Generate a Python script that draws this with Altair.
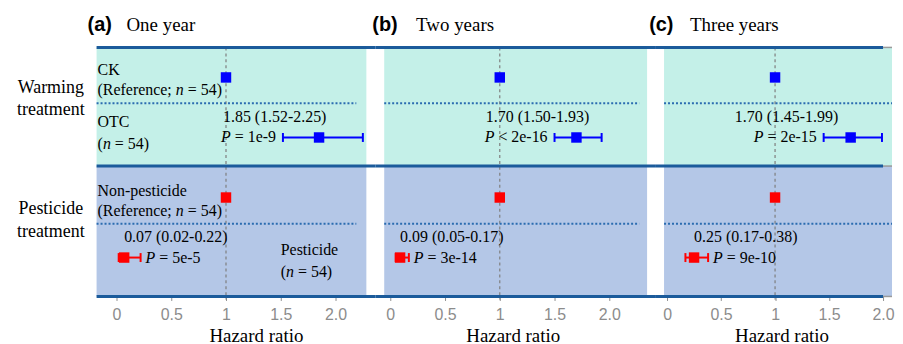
import altair as alt
import pandas as pd

# ---------------- data ----------------
panel_tags = ["(a)", "(b)", "(c)"]
periods = ["One year", "Two years", "Three years"]
ref_hr = [1.0, 1.0, 1.0]
otc_hr = [1.85, 1.70, 1.70]
otc_lo = [1.52, 1.50, 1.45]
otc_hi = [2.25, 1.93, 1.99]
otc_p = ["= 1e-9", "< 2e-16", "= 2e-15"]
pest_hr = [0.07, 0.09, 0.25]
pest_lo = [0.02, 0.05, 0.17]
pest_hi = [0.22, 0.17, 0.38]
pest_p = ["= 5e-5", "= 3e-14", "= 9e-10"]
n_group = [54, 54, 54, 54]
group_labels = [["Warming", "treatment"], ["Pesticide", "treatment"]]
tick_values = [0, 0.5, 1, 1.5, 2]
tick_labels = ["0", "0.5", "1", "1.5", "2.0"]

# ---------------- layout (data units) ----------------
X_DOMAINS = [(-0.991, 2.364), (-0.136, 2.418), (-0.111, 2.083)]
PANEL_W = [369, 281, 238]
PLOT_H = 289
Y_DOMAIN = (-0.144, 4.648)
BG_X = [(-0.182, 2.282), (-0.055, 2.345), (-0.028, 2.083)]
DOT_X = [(-0.182, 2.19), (-0.055, 2.273), (-0.028, 2.083)]
LINE_X = [(-0.182, 2.364), (-0.136, 2.418), (-0.111, 2.0)]
SECTION_Y = [(0.5, 2.476), (2.476, 4.648)]
SECTION_COLORS = ["#c4f0e8", "#b4c7e7"]
DOT_Y = [1.431, 3.438]
THICK_Y = [0.5, 2.476, 4.648]
ROWS = [1, 2, 3, 4]
TAG_X = [-0.264, -0.164, -0.166]
PERIOD_X = [0.091, 0.236, 0.212]
OTC_LAB_X = [1.445, 1.345, 1.106]
TITLE_X_PX = [249, 138, 127]
TITLE_Y = 0.121
FS = 16

W = {' ': .25, '(': .333, ')': .333, ';': .278, '=': .564, '<': .564, '-': .333,
     '.': .25, 'R': .667, 'e': .444, 'f': .333, 'r': .333, 'n': .5, 'c': .444, 'P': .611}


def tw(s):
    return sum(W.get(c, 0.5) for c in s)


STYLES = {
    "tag": dict(font="Liberation Sans", fontSize=20, fontWeight="bold"),
    "period": dict(font="Liberation Serif", fontSize=19),
    "body": dict(font="Liberation Serif", fontSize=FS),
    "ital": dict(font="Liberation Serif", fontSize=FS, fontStyle="italic"),
    "group": dict(font="Liberation Serif", fontSize=18),
}

label_expr = " : ".join(
    f"datum.value == {v} ? '{l}'" for v, l in zip(tick_values, tick_labels)
) + " : ''"


def n_label(texts, x, y, prefix, px):
    texts.append(dict(x=x, y=y, text=prefix, kind="body", align="left"))
    texts.append(dict(x=x + px(tw(prefix) * FS), y=y, text="n", kind="ital", align="left"))
    texts.append(dict(x=x + px((tw(prefix) + 0.5 + 0.25) * FS), y=y,
                      text=f"= {n_group[0]})", kind="body", align="left"))


def panel(i):
    ppu = PANEL_W[i] / (X_DOMAINS[i][1] - X_DOMAINS[i][0])

    def px(v):
        return v / ppu

    xs = alt.Scale(domain=list(X_DOMAINS[i]), nice=False, zero=False)
    ys = alt.Scale(domain=list(Y_DOMAIN), nice=False, zero=False, reverse=True)
    xaxis = alt.Axis(
        values=tick_values, labelExpr=label_expr, domain=False, ticks=True,
        tickColor="#8c8c8c", tickSize=4, tickWidth=1,
        grid=False, labelFont="Liberation Sans", labelFontSize=16,
        labelColor="#8c8c8c", labelPadding=6, labelFlush=False,
        title="Hazard ratio", titleFont="Liberation Serif", titleFontSize=19,
        titleFontWeight="normal", titleColor="black", titlePadding=4,
        titleX=TITLE_X_PX[i], titleAlign="center")

    def X(field):
        return alt.X(field, scale=xs, axis=xaxis)

    def Y(field):
        return alt.Y(field, scale=ys, axis=None)

    layers = []
    for (y0, y1), col in zip(SECTION_Y, SECTION_COLORS):
        bg = pd.DataFrame({"x": [BG_X[i][0]], "x2": [BG_X[i][1]], "y": [y0], "y2": [y1]})
        layers.append(alt.Chart(bg).mark_rect(color=col).encode(
            x=X("x:Q"), x2="x2", y=Y("y:Q"), y2="y2"))

    layers.append(alt.Chart(pd.DataFrame({"x": [ref_hr[i]], "y": [THICK_Y[0]], "y2": [4.7]})).mark_rule(
        color="#7f7f7f", strokeDash=[3, 3], strokeWidth=1.2).encode(
        x=X("x:Q"), y=Y("y:Q"), y2="y2"))

    layers.append(alt.Chart(pd.DataFrame({"x": [DOT_X[i][0]] * 2, "x2": [DOT_X[i][1]] * 2, "y": DOT_Y})).mark_rule(
        color="#2b6cb0", strokeDash=[2, 2], strokeWidth=2).encode(
        x=X("x:Q"), x2="x2", y=Y("y:Q")))

    if i == 2:
        layers.append(alt.Chart(pd.DataFrame({"x": [LINE_X[i][1]] * 3, "x2": [X_DOMAINS[i][1]] * 3,
                                              "y": THICK_Y})).mark_rule(color="#9a9a9a", strokeWidth=1.5).encode(
            x=X("x:Q"), x2="x2", y=Y("y:Q")))

    layers.append(alt.Chart(pd.DataFrame({"x": [LINE_X[i][0]] * 3, "x2": [LINE_X[i][1]] * 3, "y": THICK_Y})).mark_rule(
        color="#1b5b9b", strokeWidth=3).encode(
        x=X("x:Q"), x2="x2", y=Y("y:Q")))

    groups = [
        ("#0000ff", [ref_hr[i], otc_hr[i]], [ref_hr[i], otc_lo[i]], [ref_hr[i], otc_hi[i]], ROWS[:2]),
        ("#ff0000", [ref_hr[i], pest_hr[i]], [ref_hr[i], pest_lo[i]], [ref_hr[i], pest_hi[i]], ROWS[2:]),
    ]
    for col, hr, lo, hi, rows in groups:
        est = pd.DataFrame({"hr": hr, "lo": lo, "hi": hi, "row": rows})
        ci = est[est["lo"] != est["hi"]]
        caps = pd.concat([ci.assign(v=ci["lo"]), ci.assign(v=ci["hi"])])
        layers.append(alt.Chart(ci).mark_rule(strokeWidth=2, color=col).encode(
            x=X("lo:Q"), x2="hi", y=Y("row:Q")))
        layers.append(alt.Chart(caps).mark_tick(orient="vertical", size=9, thickness=2,
                                                opacity=1, color=col).encode(
            x=X("v:Q"), y=Y("row:Q")))
        layers.append(alt.Chart(est).mark_square(size=110, opacity=1, color=col).encode(
            x=X("hr:Q"), y=Y("row:Q")))

    # ---------- texts ----------
    T = []
    T.append(dict(x=TAG_X[i], y=TITLE_Y, text=panel_tags[i], kind="tag", align="left"))
    T.append(dict(x=PERIOD_X[i], y=TITLE_Y, text=periods[i], kind="period", align="left"))
    T.append(dict(x=OTC_LAB_X[i], y=1.663,
                  text=f"{otc_hr[i]:.2f} ({otc_lo[i]:.2f}-{otc_hi[i]:.2f})", kind="body", align="center"))
    T.append(dict(x=otc_lo[i] - px(7), y=2.0, text=otc_p[i], kind="body", align="right"))
    T.append(dict(x=otc_lo[i] - px(7 + (tw(otc_p[i]) + 0.25) * FS), y=2.0, text="P",
                  kind="ital", align="right"))
    T.append(dict(x=pest_hr[i], y=3.653,
                  text=f"{pest_hr[i]:.2f} ({pest_lo[i]:.2f}-{pest_hi[i]:.2f})", kind="body", align="left"))
    T.append(dict(x=pest_hi[i] + px(5), y=4.0, text="P", kind="ital", align="left"))
    T.append(dict(x=pest_hi[i] + px(5 + (0.611 + 0.25) * FS), y=4.0, text=pest_p[i],
                  kind="body", align="left"))

    if i == 0:
        x0 = BG_X[0][0] + px(1)
        T.append(dict(x=x0, y=0.884, text="CK", kind="body", align="left"))
        n_label(T, x0, 1.216, "(Reference; ", px)
        T.append(dict(x=x0, y=1.746, text="OTC", kind="body", align="left"))
        n_label(T, x0, 2.111, "(", px)
        T.append(dict(x=x0, y=2.891, text="Non-pesticide", kind="body", align="left"))
        n_label(T, x0, 3.222, "(Reference; ", px)
        T.append(dict(x=1.5, y=3.869, text="Pesticide", kind="body", align="left"))
        n_label(T, 1.5, 4.234, "(", px)
        for lines, ys_ in zip(group_labels, [(1.182, 1.547), (3.189, 3.570)]):
            for line, yy in zip(lines, ys_):
                T.append(dict(x=-0.6, y=yy, text=line, kind="group", align="center"))

    tdf = pd.DataFrame(T)
    for (kind, align), sub in tdf.groupby(["kind", "align"]):
        layers.append(
            alt.Chart(sub).mark_text(align=align, baseline="middle", color="black", **STYLES[kind]).encode(
                x=X("x:Q"), y=Y("y:Q"), text="text:N"))

    return alt.layer(*layers).properties(width=PANEL_W[i], height=PLOT_H)


chart = alt.hconcat(*[panel(i) for i in range(3)], spacing=0, padding=0,
                    bounds="flush").configure_view(stroke=None)

chart.save("out.html", embed_options={"renderer": "svg", "actions": False})
